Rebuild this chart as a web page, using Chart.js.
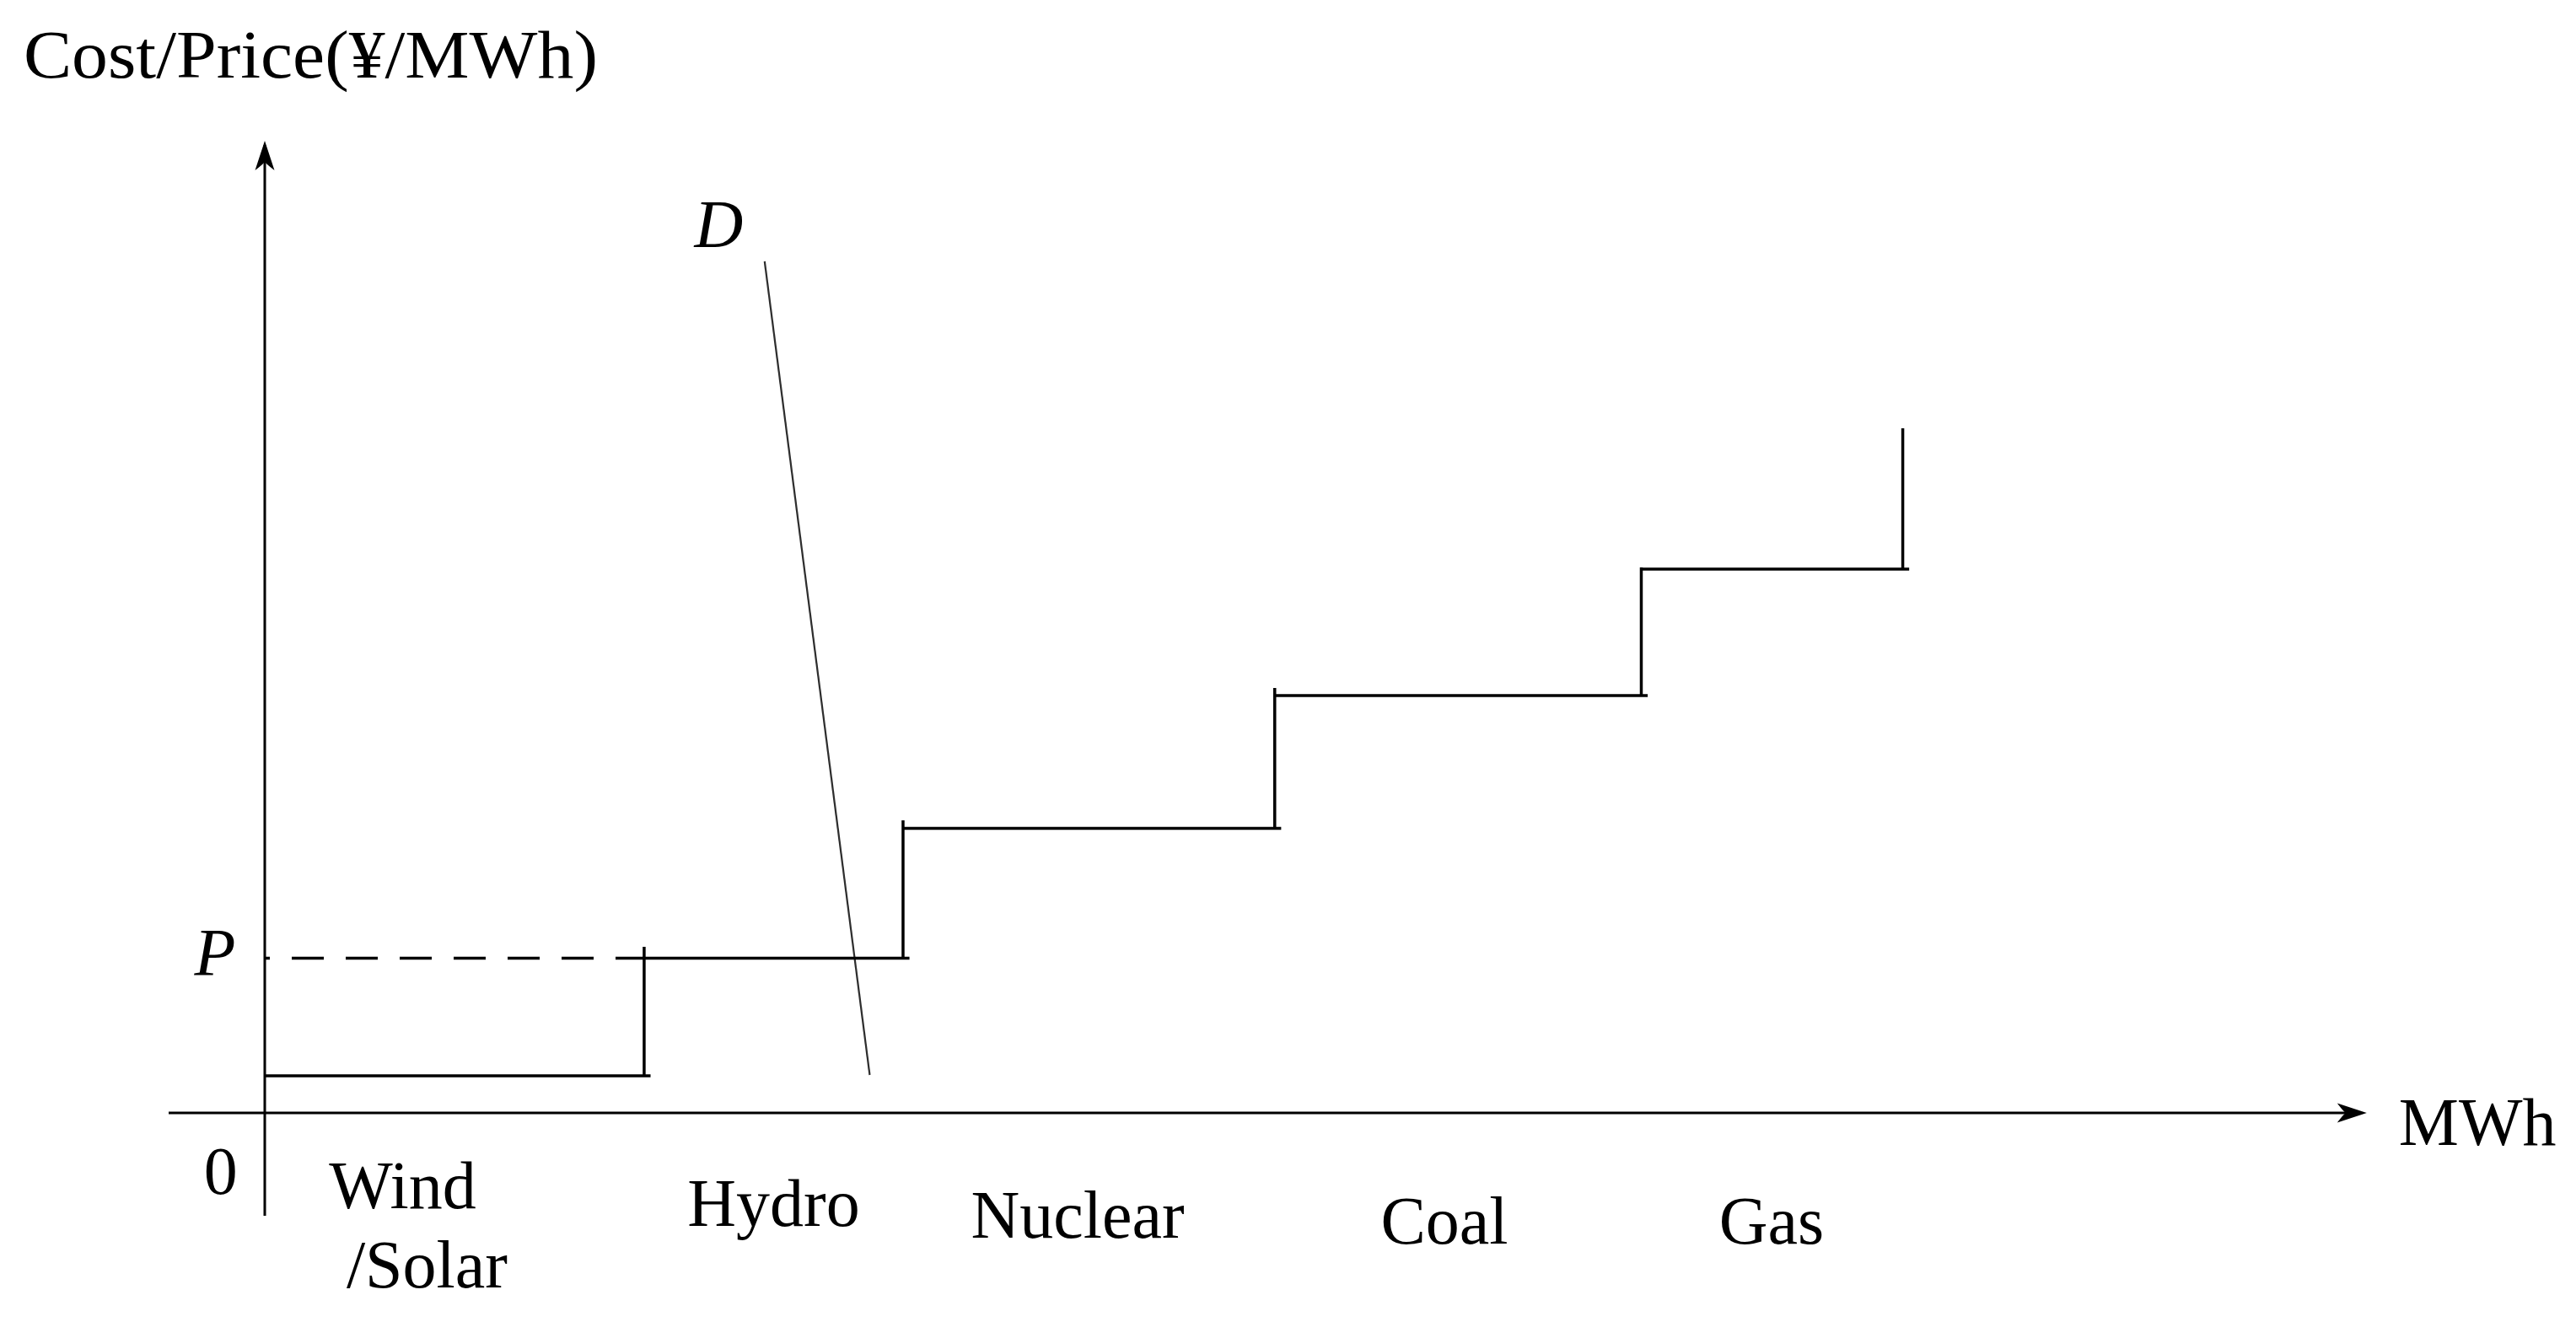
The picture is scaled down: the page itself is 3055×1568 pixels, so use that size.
<!DOCTYPE html>
<html>
<head>
<meta charset="utf-8">
<title>Merit order</title>
<script src="https://cdn.jsdelivr.net/npm/chart.js@4.4.1/dist/chart.umd.min.js"></script>
<style>
  html, body { margin: 0; padding: 0; background: #fff; }
  #wrap { width: 3055px; height: 1568px; }
</style>
</head>
<body>
<div id="wrap"><canvas id="merit-order"></canvas></div>
<script>
// merit order curve: block edges (cumulative MWh), cost of each block, top of each riser
var sources = ['Wind', 'Hydro', 'Nuclear', 'Coal', 'Gas'];
var capacityEdges = [0, 14.8, 24.9, 39.4, 53.7, 63.9];
var costs = [4.4, 18.35, 33.75, 49.5, 64.5];
var riserTops = [19.7, 34.7, 50.4, 64.7, 81.2];
// demand curve D, and the price P where it crosses the supply curve
var demandX = [19.5, 23.6];
var demandY = [101, 4.5];
var clearingPrice = 18.35;
// axis extents
var axisX = [-3.75, 82.0];
var axisY = [-12.2, 115.3];
var yTitle = 'Cost/Price(¥/MWh)';
var xTitle = 'MWh';

var FONT = '"Liberation Serif", "DejaVu Serif", serif';
var capExt = 0.25;

var datasets = [];
function segment(x0, y0, x1, y1, style) {
  var ds = {
    data: [{x: x0, y: y0}, {x: x1, y: y1}],
    showLine: true,
    pointRadius: 0,
    borderColor: '#000',
    borderWidth: 3.5,
    fill: false
  };
  for (var k in style) ds[k] = style[k];
  datasets.push(ds);
}

// axes
segment(axisX[0], 0, axisX[1] - 0.3, 0, {borderWidth: 3});
segment(0, axisY[0], 0, axisY[1] - 0.5, {borderWidth: 3});

// supply steps
for (var i = 0; i < costs.length; i++) {
  segment(capacityEdges[i], costs[i], capacityEdges[i + 1] + capExt, costs[i]);
  segment(capacityEdges[i + 1], costs[i], capacityEdges[i + 1], riserTops[i]);
}

// price line P
segment(0, clearingPrice, capacityEdges[1], clearingPrice, {borderWidth: 3.5, borderDash: [38, 26], borderDashOffset: 32});

// demand D
segment(demandX[0], demandY[0], demandX[1], demandY[1], {borderWidth: 2.2, borderColor: '#2e2e2e'});

var labels = [
  {text: yTitle, x: -9.41, y: 122.8, align: 'left', width: 681},
  {text: xTitle, x: 86.32, y: -3.8},
  {text: '0', x: -1.72, y: -9.6},
  {text: 'P', x: -1.94, y: 16.3, italic: true},
  {text: 'D', x: 17.71, y: 102.7, italic: true},
  {text: sources[0], x: 5.38, y: -11.3},
  {text: '/Solar', x: 6.33, y: -20.7},
  {text: sources[1], x: 19.85, y: -13.4},
  {text: sources[2], x: 31.71, y: -14.8},
  {text: sources[3], x: 46.02, y: -15.5},
  {text: sources[4], x: 58.78, y: -15.5}
];

var decorations = {
  id: 'decorations',
  afterDraw: function(chart) {
    var ctx = chart.ctx;
    var xs = chart.scales.x, ys = chart.scales.y;
    ctx.save();
    ctx.fillStyle = '#000';

    // arrow heads
    function arrow(tx, ty, dx, dy) {
      var len = 35, half = 11.5;
      var bx = tx - dx * len, by = ty - dy * len;
      var nx = -dy, ny = dx;
      ctx.beginPath();
      ctx.moveTo(tx, ty);
      ctx.lineTo(bx + nx * half, by + ny * half);
      ctx.quadraticCurveTo(tx - dx * len * 0.75, ty - dy * len * 0.75, tx - dx * len * 0.7, ty - dy * len * 0.7);
      ctx.quadraticCurveTo(tx - dx * len * 0.75, ty - dy * len * 0.75, bx - nx * half, by - ny * half);
      ctx.closePath();
      ctx.fill();
    }
    arrow(xs.getPixelForValue(axisX[1]), ys.getPixelForValue(0), 1, 0);
    arrow(xs.getPixelForValue(0), ys.getPixelForValue(axisY[1]), 0, -1);

    ctx.textBaseline = 'alphabetic';
    labels.forEach(function(l) {
      ctx.font = (l.italic ? 'italic ' : '') + '80px ' + FONT;
      ctx.textAlign = l.align || 'center';
      var px = xs.getPixelForValue(l.x), py = ys.getPixelForValue(l.y);
      if (l.width) {
        // stretch to the wider Computer Modern look of the original
        var sx = l.width / ctx.measureText(l.text).width;
        ctx.save();
        ctx.translate(px, py);
        ctx.scale(sx, 1);
        ctx.fillText(l.text, 0, 0);
        ctx.restore();
      } else {
        ctx.fillText(l.text, px, py);
      }
    });
    ctx.restore();
  }
};

var ctx = document.getElementById('merit-order').getContext('2d');
var merit_order_chart = new Chart(ctx, {
  type: 'scatter',
  data: {datasets: datasets},
  options: {
    responsive: true,
    maintainAspectRatio: false,
    animation: false,
    layout: {padding: 0},
    plugins: {legend: {display: false}, tooltip: {enabled: false}},
    scales: {
      x: {type: 'linear', display: false, min: -10.329, max: 90.164},
      y: {type: 'linear', display: false, min: -24.8, max: 132.0}
    }
  },
  plugins: [decorations]
});
</script>
</body>
</html>
